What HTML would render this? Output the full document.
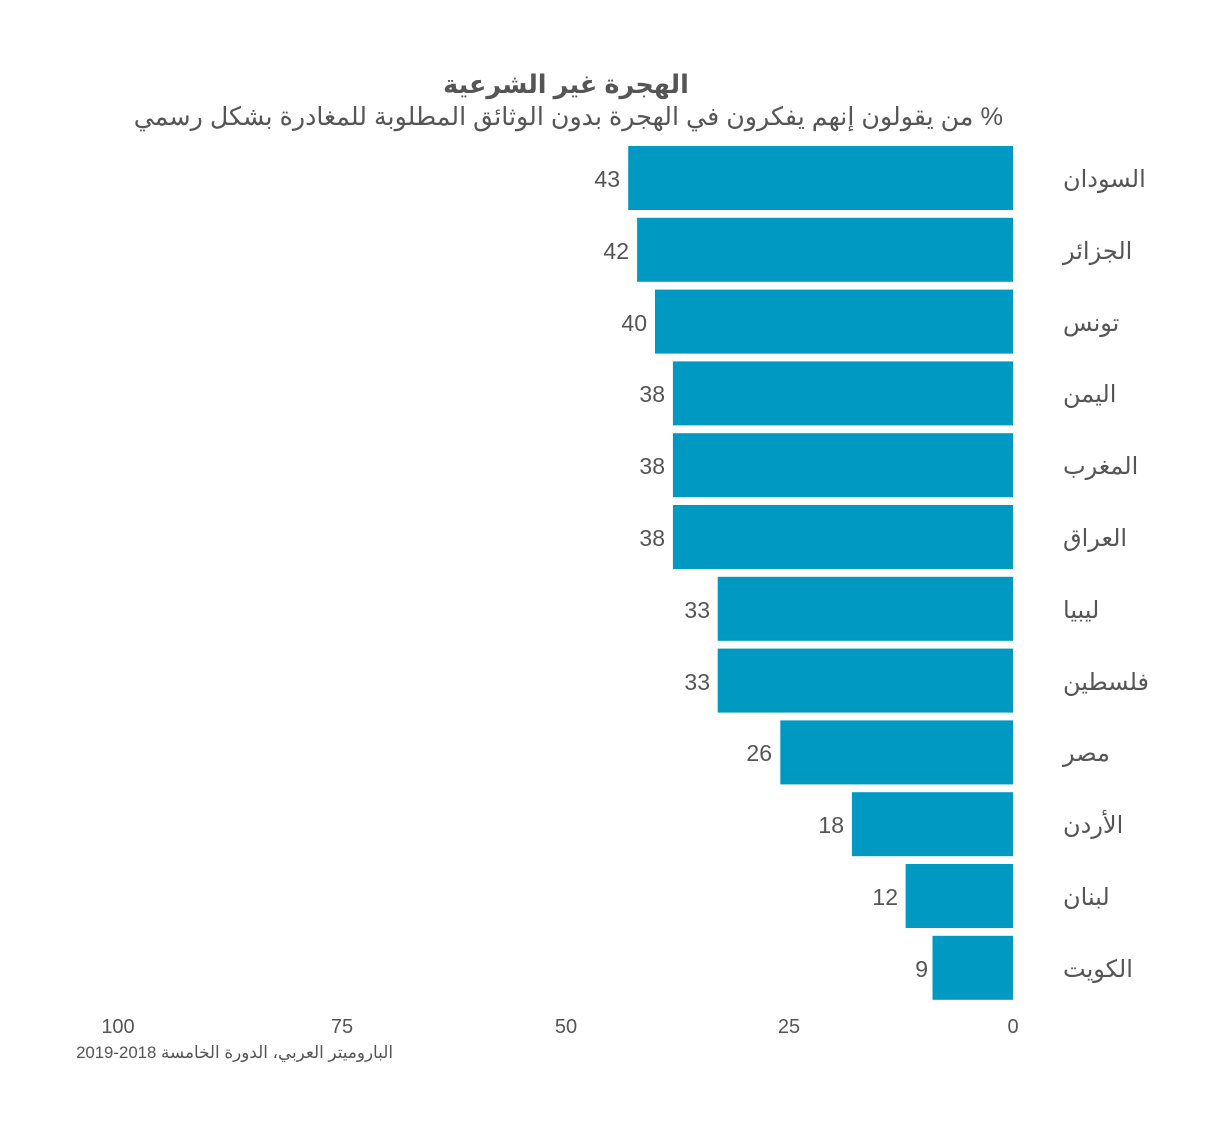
<!DOCTYPE html>
<html><head><meta charset="utf-8"><style>
html,body{margin:0;padding:0;background:#fff;}
svg text{font-family:"Liberation Sans","DejaVu Sans",sans-serif;}
</style></head><body>
<svg width="1230" height="1135" xmlns="http://www.w3.org/2000/svg">
<rect width="1230" height="1135" fill="#fff"/>
<text x="566" y="93" text-anchor="middle" font-size="25.5" font-weight="bold" fill="#555" direction="rtl">الهجرة غير الشرعية</text>
<text x="1003" y="125" text-anchor="start" font-size="25.3" fill="#555" direction="rtl">% من يقولون إنهم يفكرون في الهجرة بدون الوثائق المطلوبة للمغادرة بشكل رسمي</text>
<g fill="#0099c1">
<rect x="628.2" y="146" width="384.8" height="64"/>
<rect x="637.1" y="217.8" width="375.9" height="64"/>
<rect x="655" y="289.6" width="358" height="64"/>
<rect x="672.9" y="361.4" width="340.1" height="64"/>
<rect x="672.9" y="433.2" width="340.1" height="64"/>
<rect x="672.9" y="505" width="340.1" height="64"/>
<rect x="717.7" y="576.8" width="295.3" height="64"/>
<rect x="717.7" y="648.6" width="295.3" height="64"/>
<rect x="780.3" y="720.4" width="232.7" height="64"/>
<rect x="851.9" y="792.2" width="161.1" height="64"/>
<rect x="905.6" y="864" width="107.4" height="64"/>
<rect x="932.5" y="935.8" width="80.5" height="64"/>
</g>
<g font-size="23" fill="#555" text-anchor="end">
<text x="620" y="187">43</text>
<text x="629" y="259">42</text>
<text x="647" y="331">40</text>
<text x="665" y="402">38</text>
<text x="665" y="474">38</text>
<text x="665" y="546">38</text>
<text x="710" y="618">33</text>
<text x="710" y="690">33</text>
<text x="772" y="761">26</text>
<text x="844" y="833">18</text>
<text x="898" y="905">12</text>
<text x="928" y="977">9</text>
</g>
<g font-size="24" fill="#555" text-anchor="end" direction="rtl">
<text x="1063" y="187">السودان</text>
<text x="1063" y="259">الجزائر</text>
<text x="1063" y="331">تونس</text>
<text x="1063" y="402">اليمن</text>
<text x="1063" y="474">المغرب</text>
<text x="1063" y="546">العراق</text>
<text x="1063" y="618">ليبيا</text>
<text x="1063" y="690">فلسطين</text>
<text x="1063" y="761">مصر</text>
<text x="1063" y="833">الأردن</text>
<text x="1063" y="905">لبنان</text>
<text x="1063" y="977">الكويت</text>
</g>
<g font-size="20" fill="#555" text-anchor="middle">
<text x="118" y="1033">100</text>
<text x="342" y="1033">75</text>
<text x="566" y="1033">50</text>
<text x="789" y="1033">25</text>
<text x="1013" y="1033">0</text>
</g>
<text x="393" y="1058" text-anchor="start" direction="rtl" font-size="16.8" fill="#555">الباروميتر العربي، الدورة الخامسة 2018-2019</text>
</svg>
</body></html>
